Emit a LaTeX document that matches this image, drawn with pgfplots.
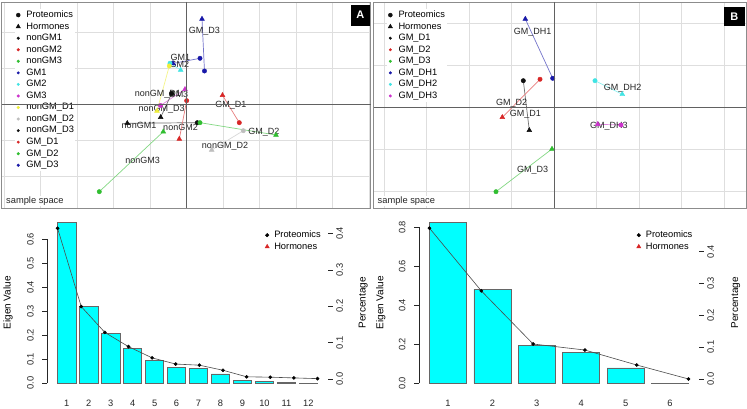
\documentclass[border=0pt]{standalone}
\usepackage{fontspec}
\setmainfont{Liberation Sans}
\usepackage{pgfplots}
\pgfplotsset{compat=1.18}
\definecolor{cR}{HTML}{D82626}
\definecolor{cG}{HTML}{30BE30}
\definecolor{cB}{HTML}{1818A8}
\definecolor{cC}{HTML}{40E4E4}
\definecolor{cM}{HTML}{CC33CC}
\definecolor{cY}{HTML}{EEEE3A}
\definecolor{cE}{HTML}{BEBEBE}
\definecolor{cK}{HTML}{101010}
\definecolor{barfill}{HTML}{00FFFF}
\newcommand{\fs}{\fontsize{9.3}{10}\selectfont}
\newcommand{\lfs}{\fontsize{9}{10}\selectfont}

\newcommand{\pair}[5]{%
  \addplot[draw=#1!60!white, line width=0.7pt, forget plot] coordinates {(#2,#3) (#4,#5)};
  \addplot[only marks, mark=*, mark size=2.2pt, color=#1, forget plot] coordinates {(#2,#3)};
  \addplot[only marks, mark=triangle*, mark size=2.8pt, color=#1, forget plot] coordinates {(#4,#5)};
}
\newcommand{\lab}[3]{\node[font=\lfs, text=black!85, inner sep=0pt] at (axis cs:#1,#2) {#3};}

\pgfplotsset{
  lgd/.style={only marks, mark=*, mark size=1.3pt, color=#1,
    legend image code/.code={\draw[mark repeat=2,mark phase=2,##1] plot coordinates {(0pt,0pt) (4pt,0pt) (8pt,0pt)};}},
  top/.style={scale only axis, anchor=south west,
    axis line style={draw=black!45, line width=0.9pt},
    grid=major, major grid style={draw=black!13, line width=0.5pt},
    xticklabels={}, yticklabels={}, tick style={draw=none},
    legend cell align=left,
    legend style={anchor=north west, draw=none, fill=white, inner sep=1pt, font=\fs,
      row sep=1.75pt, column sep=5.5pt,
      nodes={inner sep=0.5pt, text height=6.8pt, text depth=2pt}},
  },
  bot/.style={scale only axis, anchor=south west,
    axis line style={draw=none},
    tick align=outside, major tick length=5pt,
    tick style={draw=black!85, line width=0.6pt},
    ticklabel style={font=\fs, text=black!85},
    label style={font=\fs, text=black!85},
  },
  botlgd/.style={legend cell align=left,
    legend style={anchor=north west, draw=none, fill=none, inner sep=0pt, font=\fs,
      row sep=1.75pt, column sep=4.5pt,
      nodes={inner sep=0.5pt, text height=6.8pt, text depth=2pt}}},
}

\begin{document}
\begin{tikzpicture}
\useasboundingbox (0pt,0pt) rectangle (747pt,409pt);
\fill[white] (0pt,0pt) rectangle (747pt,409pt);

% ---------------- Panel A ----------------
\begin{axis}[top, name=axA, at={(1.5pt,201pt)}, width=369pt, height=206pt,
  xmin=-5.068, xmax=5.041, ymin=-2.889, ymax=2.833,
  xtick={-5,...,5}, ytick={-2,...,2},
  legend style={at={(axis description cs:0.0363,0.966)}}]
\addlegendimage{lgd=cK, mark size=2pt}\addlegendentry{Proteomics}
\addlegendimage{lgd=cK, mark=triangle*, mark size=2.5pt}\addlegendentry{Hormones}
\addlegendimage{lgd=cK}\addlegendentry{nonGM1}
\addlegendimage{lgd=cR}\addlegendentry{nonGM2}
\addlegendimage{lgd=cG}\addlegendentry{nonGM3}
\addlegendimage{lgd=cB}\addlegendentry{GM1}
\addlegendimage{lgd=cC}\addlegendentry{GM2}
\addlegendimage{lgd=cM}\addlegendentry{GM3}
\addlegendimage{lgd=cY}\addlegendentry{nonGM\_D1}
\addlegendimage{lgd=cE}\addlegendentry{nonGM\_D2}
\addlegendimage{lgd=cK}\addlegendentry{nonGM\_D3}
\addlegendimage{lgd=cR}\addlegendentry{GM\_D1}
\addlegendimage{lgd=cG}\addlegendentry{GM\_D2}
\addlegendimage{lgd=cB}\addlegendentry{GM\_D3}
\pair{cK}{0.296}{-0.519}{-1.622}{-0.536}
\pair{cR}{0.005}{0.092}{-0.197}{-0.972}
\pair{cG}{-2.389}{-2.436}{-0.636}{-0.769}
\pair{cB}{0.370}{1.269}{-0.370}{1.125}
\pair{cC}{-0.452}{1.131}{-0.159}{0.944}
\pair{cM}{-0.712}{-0.042}{-0.041}{0.408}
\pair{cY}{-0.471}{1.056}{-0.808}{-0.194}
\pair{cE}{1.556}{-0.742}{0.690}{-1.278}
\pair{cK}{-0.405}{0.292}{-0.707}{-0.369}
\pair{cR}{1.447}{-0.519}{0.986}{0.242}
\pair{cG}{0.370}{-0.519}{2.452}{-0.861}
\pair{cB}{0.493}{0.917}{0.425}{2.361}
\lab{0.493}{2.008}{GM\_D3}
\lab{-0.170}{1.306}{GM1}
\lab{-0.192}{1.111}{GM2}
\lab{-0.781}{0.278}{nonGM\_D1}
\lab{-0.219}{0.278}{GM3}
\lab{-0.679}{-0.139}{nonGM\_D3}
\lab{-1.301}{-0.583}{nonGM1}
\lab{-0.164}{-0.639}{nonGM2}
\lab{1.219}{-0.047}{GM\_D1}
\lab{2.123}{-0.797}{GM\_D2}
\lab{1.055}{-1.167}{nonGM\_D2}
\lab{-1.2}{-1.556}{nonGM3}
\coordinate (oA) at (axis cs:0,0);
\end{axis}
\draw[black!62, line width=0.9pt] (oA |- axA.north) -- (oA |- axA.south);
\draw[black!62, line width=0.9pt] (oA -| axA.west) -- (oA -| axA.east);
\node[anchor=south west, fill=white, inner sep=1pt, font=\fs, text=black!85] at ([xshift=3.5pt,yshift=1.5pt]axA.south west) {sample space};
\node[anchor=north east, fill=black, text=white, font=\bfseries\fontsize{11}{11}\selectfont, minimum width=19pt, minimum height=21pt, inner sep=0pt] at ([xshift=-0.5pt,yshift=-2.5pt]axA.north east) {A};

% ---------------- Panel B ----------------
\begin{axis}[top, name=axB, at={(373.5pt,201pt)}, width=372.5pt, height=206pt,
  xmin=-4.247, xmax=4.518, ymin=-2.405, ymax=2.5,
  xtick={-4,...,4}, ytick={-2,...,2},
  legend style={at={(axis description cs:0.0362,0.966)}}]
\addlegendimage{lgd=cK, mark size=2pt}\addlegendentry{Proteomics}
\addlegendimage{lgd=cK, mark=triangle*, mark size=2.5pt}\addlegendentry{Hormones}
\addlegendimage{lgd=cK}\addlegendentry{GM\_D1}
\addlegendimage{lgd=cR}\addlegendentry{GM\_D2}
\addlegendimage{lgd=cG}\addlegendentry{GM\_D3}
\addlegendimage{lgd=cB}\addlegendentry{GM\_DH1}
\addlegendimage{lgd=cC}\addlegendentry{GM\_DH2}
\addlegendimage{lgd=cM}\addlegendentry{GM\_DH3}
\pair{cK}{-0.722}{0.626}{-0.581}{-0.555}
\pair{cR}{-0.329}{0.660}{-1.216}{-0.245}
\pair{cG}{-1.365}{-2.017}{-0.047}{-1.0}
\pair{cB}{-0.031}{0.683}{-0.675}{2.095}
\pair{cC}{0.965}{0.626}{1.607}{0.302}
\pair{cM}{1.576}{-0.429}{1.028}{-0.412}
\lab{-0.501}{1.786}{GM\_DH1}
\lab{1.616}{0.452}{GM\_DH2}
\lab{1.294}{-0.469}{GM\_DH3}
\lab{-0.671}{-0.167}{GM\_D1}
\lab{-0.995}{0.088}{GM\_D2}
\lab{-0.501}{-1.517}{GM\_D3}
\coordinate (oB) at (axis cs:0,0);
\end{axis}
\draw[black!62, line width=0.9pt] (oB |- axB.north) -- (oB |- axB.south);
\draw[black!62, line width=0.9pt] (oB -| axB.west) -- (oB -| axB.east);
\node[anchor=south west, fill=white, inner sep=1pt, font=\fs, text=black!85] at ([xshift=3pt,yshift=1.5pt]axB.south west) {sample space};
\node[anchor=north east, fill=black, text=white, font=\bfseries\fontsize{11}{11}\selectfont, minimum width=21pt, minimum height=19pt, inner sep=0pt] at ([xshift=-1pt,yshift=-5pt]axB.north east) {B};

% ---------------- Bottom left: bars ----------------
\begin{axis}[bot, at={(47.2pt,19.3pt)}, width=280.7pt, height=173.9pt,
  xmin=-0.368, xmax=14.968, ymin=-0.0267, ymax=0.698,
  xtick={0.7,1.9,3.1,4.3,5.5,6.7,7.9,9.1,10.3,11.5,12.7,13.9},
  xticklabels={1,2,3,4,5,6,7,8,9,10,11,12},
  xtick style={draw=none}, xticklabel style={yshift=-1.5pt},
  ytick={0,0.1,0.2,0.3,0.4,0.5,0.6},
  yticklabels={0.0,0.1,0.2,0.3,0.4,0.5,0.6},
  ytick pos=left, yticklabel style={xshift=-5pt, rotate=90, anchor=south},
  ylabel={Eigen Value},
  every axis y label/.style={at={(axis description cs:-0.1397,0.5)}, anchor=center, rotate=90},
  ybar, bar width=1]
\addplot[fill=barfill, draw=black!60, line width=0.6pt] coordinates {
 (0.7,0.671) (1.9,0.319) (3.1,0.208) (4.3,0.144) (5.5,0.094) (6.7,0.067)
 (7.9,0.0625) (9.1,0.039) (10.3,0.011) (11.5,0.009) (12.7,0.005) (13.9,0.001)};
\draw[black!85, line width=0.6pt] (axis cs:-0.368,0) -- (axis cs:-0.368,0.6);
\end{axis}
% overlay
\begin{axis}[bot, botlgd, at={(47.2pt,19.3pt)}, width=280.7pt, height=173.9pt,
  xmin=0.56, xmax=12.44, ymin=-0.0294, ymax=0.4484,
  xtick=\empty,
  ytick={0,0.1,0.2,0.3,0.4}, yticklabels={0.0,0.1,0.2,0.3,0.4},
  ytick pos=right, yticklabel pos=right, yticklabel style={rotate=90, anchor=north},
  ylabel={Percentage},
  every axis y label/.style={at={(axis description cs:1.126,0.5)}, anchor=center, rotate=90},
  legend style={at={(axis description cs:0.7756,0.918)}}]
\draw[black!85, line width=0.6pt] (axis cs:12.44,0) -- (axis cs:12.44,0.336);
\addplot[black!70, line width=0.6pt, mark=*, mark size=1.5pt, mark options={draw=black, fill=black}, forget plot] coordinates {
 (1,0.414) (2,0.199) (3,0.128) (4,0.089) (5,0.058) (6,0.041)
 (7,0.038) (8,0.024) (9,0.006) (10,0.005) (11,0.003) (12,0.001)};
\addlegendimage{lgd=black, mark size=1.8pt}\addlegendentry{Proteomics}
\addlegendimage{lgd=cR, mark=triangle*, mark size=2.4pt}\addlegendentry{Hormones}
\end{axis}

% ---------------- Bottom right: bars ----------------
\begin{axis}[bot, at={(419.1pt,19.3pt)}, width=279.8pt, height=173.9pt,
  xmin=-0.08, xmax=7.48, ymin=-0.0328, ymax=0.859,
  xtick={0.7,1.9,3.1,4.3,5.5,6.7},
  xticklabels={1,2,3,4,5,6},
  xtick style={draw=none}, xticklabel style={yshift=-1.5pt},
  ytick={0,0.2,0.4,0.6,0.8},
  yticklabels={0.0,0.2,0.4,0.6,0.8},
  ytick pos=left, yticklabel style={xshift=-5pt, rotate=90, anchor=south},
  ylabel={Eigen Value},
  every axis y label/.style={at={(axis description cs:-0.137,0.5)}, anchor=center, rotate=90},
  ybar, bar width=1]
\addplot[fill=barfill, draw=black!60, line width=0.6pt] coordinates {
 (0.7,0.826) (1.9,0.482) (3.1,0.193) (4.3,0.159) (5.5,0.079) (6.7,0.0005)};
\draw[black!85, line width=0.6pt] (axis cs:-0.08,0) -- (axis cs:-0.08,0.8);
\end{axis}
% overlay
\begin{axis}[bot, botlgd, at={(419.1pt,19.3pt)}, width=279.8pt, height=173.9pt,
  xmin=0.8, xmax=6.2, ymin=-0.0336, ymax=0.5128,
  xtick=\empty,
  ytick={0,0.1,0.2,0.3,0.4}, yticklabels={0.0,0.1,0.2,0.3,0.4},
  ytick pos=right, yticklabel pos=right, yticklabel style={rotate=90, anchor=north},
  ylabel={Percentage},
  every axis y label/.style={at={(axis description cs:1.1315,0.5)}, anchor=center, rotate=90},
  legend style={at={(axis description cs:0.777,0.918)}}]
\draw[black!85, line width=0.6pt] (axis cs:6.2,0) -- (axis cs:6.2,0.4);
\addplot[black!70, line width=0.6pt, mark=*, mark size=1.5pt, mark options={draw=black, fill=black}, forget plot] coordinates {
 (1,0.474) (2,0.277) (3,0.110) (4,0.091) (5,0.044) (6,0.0)};
\addlegendimage{lgd=black, mark size=1.8pt}\addlegendentry{Proteomics}
\addlegendimage{lgd=cR, mark=triangle*, mark size=2.4pt}\addlegendentry{Hormones}
\end{axis}
\end{tikzpicture}
\end{document}
